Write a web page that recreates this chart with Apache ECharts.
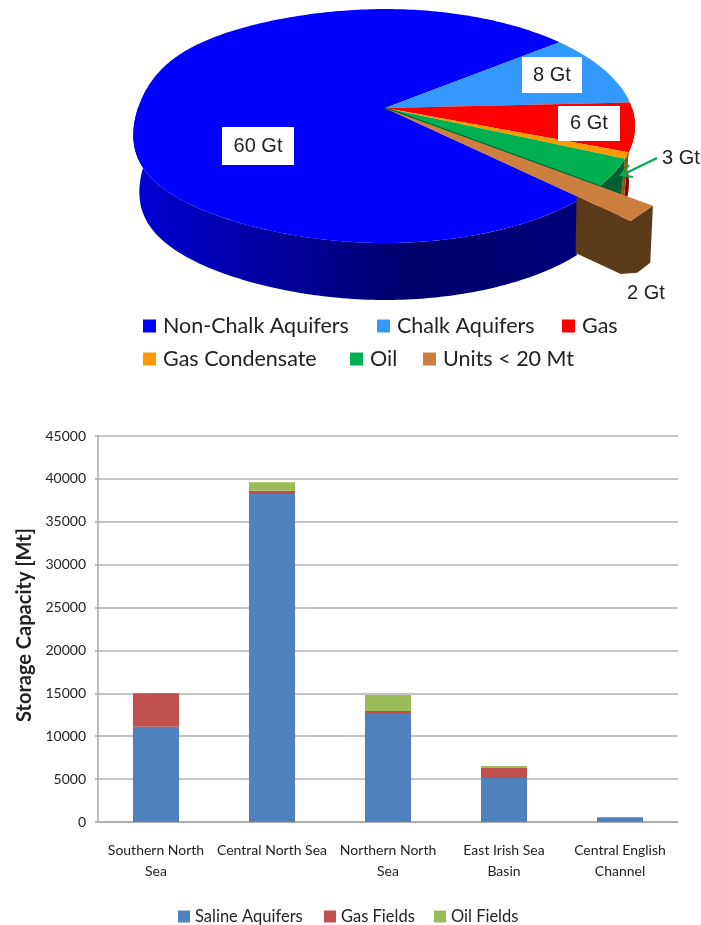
<!DOCTYPE html>
<html>
<head>
<meta charset="utf-8">
<style>html,body{margin:0;padding:0;background:#fff}#c{width:701px;height:925px}</style>
<script src="https://cdn.jsdelivr.net/npm/echarts@6/dist/echarts.min.js"></script>
</head>
<body>
<div id="c"></div>
<script>
// ---- pie data (Gt)
const pieNames = ['Non-Chalk Aquifers','Chalk Aquifers','Gas','Gas Condensate','Oil','Units < 20 Mt'];
const pieValues = [60, 8, 5.3, 0.7, 3, 2];
const pieColors = ['#0000ff','#3399ff','#ff0000','#ff9900','#00b050','#cc7f3e'];
const pieWalls  = ['#000080','#1a5c99','#8f0000','#8f5a00','#006030','#5a3a18'];
// ---- bar data (Mt)
const categories = ['Southern North\nSea','Central North Sea','Northern North\nSea','East Irish Sea\nBasin','Central English\nChannel'];
const barNames = ['Saline Aquifers','Gas Fields','Oil Fields'];
const salineAquifers = [11100, 38240, 12700, 5130, 550];
const gasFields = [3900, 380, 240, 1170, 0];
const oilFields = [0, 980, 1860, 230, 0];
const barColors = ['#4f81bd','#c0504d','#9bbb59'];
const yTicks = {min: 0, max: 45000, interval: 5000};

// projection of the tilted pie
const P = {cx: 385, cy: 108, R: 247, d: 114.2, p: 0.154, bulge: 0.05, depth: 57, bottomScale: 0.976, start: 47.4, explode: 1.25, squeeze: 0.72};
const total = pieValues.reduce((a, b) => a + b, 0);
const ranges = [];
pieValues.reduce((acc, v) => { const e = acc + v / total * 360; ranges.push([acc, e]); return e; }, P.start);
const unitsEnd = ranges[5][0] + (ranges[5][1] - ranges[5][0]) * P.squeeze - 360;

function rim(t, scale, low) {
  const r = t * Math.PI / 180, s = 1 / (1 - P.p * Math.sin(r));
  let x = P.R * Math.cos(r) * s * (scale || 1);
  let y = P.d * Math.sin(r) * s * (scale || 1);
  if (Math.cos(r) < 0) x *= 1 + P.bulge * Math.pow(Math.sin(2 * r), 2);
  if (low) x *= P.bottomScale;
  return [P.cx + x, P.cy + y + (low ? P.depth : 0)];
}
function arc(t0, t1, scale, low) {
  const pts = [], n = Math.max(2, Math.ceil(Math.abs(t1 - t0)));
  for (let i = 0; i <= n; i++) pts.push(rim(t0 + (t1 - t0) * i / n, scale, low));
  return pts;
}
const poly = (points, fill, z2) => ({type: 'polygon', shape: {points}, style: {fill}, z2, silent: true});

function blueWallFill() {
  return new echarts.graphic.LinearGradient(140, 0, 580, 0, [
    {offset: 0, color: '#0000d2'}, {offset: .3, color: '#00009e'},
    {offset: .62, color: '#00006c'}, {offset: 1, color: '#00007a'}], true);
}

function renderSlice(i) {
  const [a, b] = ranges[i];
  const children = [];
  if (i === 5) {
    // exploded slice
    const inner = rim(unitsEnd, P.explode), outer = rim(a, P.explode);
    const f = 0.78;
    const cut = [P.cx + (inner[0] - P.cx) * f, P.cy + (inner[1] - P.cy) * f];
    const lowInner = [P.cx + (inner[0] - P.cx) * 0.96, inner[1] + 53];
    const lowOuter = [P.cx + (outer[0] - P.cx) * 0.99, outer[1] + P.depth];
    const lowCut = [cut[0] - 1, cut[1] + P.depth];
    children.push(poly([cut, inner, outer, lowOuter,
      [lowOuter[0] - 13, lowOuter[1] + 10], lowInner, lowCut], pieWalls[i], 5));
    children.push(poly([[P.cx, P.cy], outer, inner], pieColors[i], 6));
  } else {
    // top face (the blue one closes under the exploded slice)
    const t0 = i === 0 ? unitsEnd : a;
    children.push(poly([[P.cx, P.cy]].concat(arc(t0, b)), pieColors[i], 3));
    // visible wall
    if (i === 0) {
      children.push(poly(arc(unitsEnd, 180).concat(arc(unitsEnd, 180, 1, true).reverse()), blueWallFill(), 1));
    } else if (b > 360) {
      const w0 = Math.max(a, 360);
      children.push(poly(arc(w0, b).concat(arc(w0, b, 1, true).reverse()), pieWalls[i], 1));
    }
    if (i === 4) {
      children.push({type: 'line', shape: {x1: P.cx, y1: P.cy, x2: rim(b)[0], y2: rim(b)[1]},
        style: {stroke: pieWalls[i], lineWidth: 2}, z2: 4, silent: true});
    }
  }
  return {type: 'group', children};
}

const pieSeries = pieNames.map((name, i) => ({
  name, type: 'custom', coordinateSystem: 'none', silent: true,
  itemStyle: {color: pieColors[i]}, data: [pieValues[i]],
  renderItem: () => renderSlice(i)
}));

const barSeries = [salineAquifers, gasFields, oilFields].map((data, i) => ({
  name: barNames[i], type: 'bar', stack: 'cap', data, barWidth: 46, silent: true, itemStyle: {color: barColors[i]}
}));

const sans = 'Arial, "Liberation Sans", sans-serif';
const textStyle = (x, y, text, align) => ({x, y, text, font: '20px ' + sans, fill: '#222', textAlign: align, textVerticalAlign: 'middle'});
const labelBox = (x, y, w, h, text) => [
  {type: 'rect', z: 20, shape: {x, y, width: w, height: h}, style: {fill: '#fff'}},
  {type: 'text', z: 21, style: textStyle(x + w / 2, y + h / 2, text, 'center')}
];
const freeLabel = (x, y, text) => ({type: 'text', z: 21, style: textStyle(x, y, text, 'left')});

const oneLegend = (name, left, top, w, font) => ({
  icon: 'rect', orient: 'horizontal', left, top, itemWidth: w, itemHeight: w, selectedMode: false, padding: 0,
  data: [name], textStyle: font
});
const pieFont = {fontFamily: 'Lato', fontSize: 21.5, color: '#222', padding: [0, 0, 0, 2]};
const barFont = {fontFamily: 'Lato', fontSize: 16.5, color: '#222'};
const pieLefts = [143, 377, 562, 143, 350, 423];
const barLefts = [178, 324, 434];

const option = {
  animation: false,
  backgroundColor: '#fff',
  legend: pieNames.map((n, i) => oneLegend(n, pieLefts[i], i < 3 ? 315 : 348, 13, pieFont))
    .concat(barNames.map((n, i) => oneLegend(n, barLefts[i], 908, 12, barFont))),
  grid: {left: 98, top: 436, width: 580, height: 386},
  xAxis: {
    type: 'category', data: categories,
    axisLine: {lineStyle: {color: '#a8a8a8', width: 1.5}},
    axisTick: {length: 5, lineStyle: {color: '#a8a8a8', width: 1.5}},
    axisLabel: {interval: 0, margin: 18, lineHeight: 21, fontFamily: 'Lato', fontSize: 14, color: '#222'}
  },
  yAxis: {
    type: 'value', min: yTicks.min, max: yTicks.max, interval: yTicks.interval,
    name: 'Storage Capacity [Mt]', nameLocation: 'middle', nameGap: 63, nameRotate: 90,
    nameTextStyle: {fontFamily: 'Lato', fontWeight: 'bold', fontSize: 20, color: '#222', padding: [0, 0, 0, 8]},
    axisLine: {show: true, lineStyle: {color: '#a8a8a8', width: 1.5}},
    axisTick: {show: true, length: 3, lineStyle: {color: '#a8a8a8', width: 1.5}},
    axisLabel: {margin: 12, fontFamily: 'Lato', fontSize: 14, color: '#222', formatter: v => String(v)},
    splitLine: {lineStyle: {color: '#b0b0b0', width: 1.5}}
  },
  series: pieSeries.concat(barSeries),
  graphic: {elements: [].concat(
    labelBox(222, 127, 72, 38, '60 Gt'),
    labelBox(522, 57, 60, 36, '8 Gt'),
    labelBox(558, 106, 62, 35, '6 Gt'),
    [freeLabel(662, 158, '3 Gt'), freeLabel(627, 293, '2 Gt'),
    {type: 'polyline', z: 22, shape: {points: [[657, 158], [622, 175]]}, style: {stroke: '#00b050', lineWidth: 2.5, fill: null}},
    {type: 'polyline', z: 22, shape: {points: [[629, 165], [621, 175], [633, 177]]}, style: {stroke: '#00b050', lineWidth: 2, fill: null}}]
  )}
};
echarts.init(document.getElementById('c'), null, {renderer: 'canvas'}).setOption(option);
</script>
</body>
</html>
